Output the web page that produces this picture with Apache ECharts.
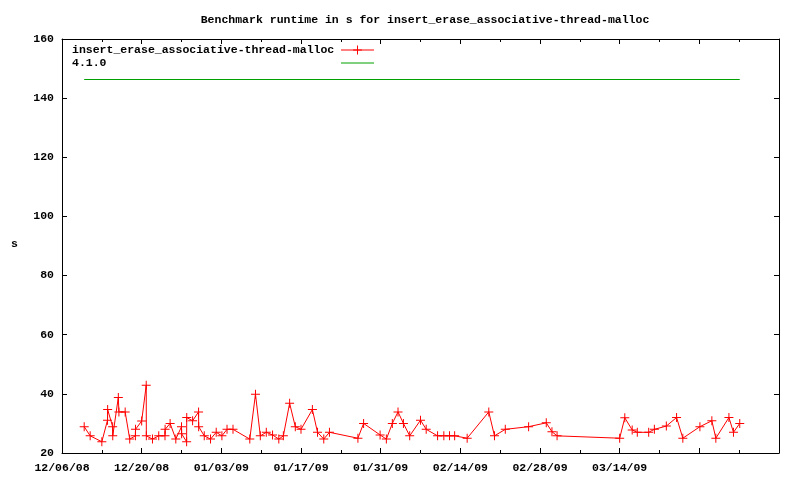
<!DOCTYPE html>
<html>
<head>
<meta charset="utf-8">
<script src="https://cdn.jsdelivr.net/npm/echarts@6/dist/echarts.min.js"></script>
<style>html,body{margin:0;padding:0;background:#fff}#c{width:800px;height:480px}</style>
</head>
<body>
<div id="c"></div>
<script>
// Days since 12/06/08
var DAYS = [3.9,4.95,7.0,8.0,8.02,8.9,8.92,9.9,10.0,11.1,11.9,12.9,12.92,14.0,14.8,14.82,15.9,17.0,18.1,18.12,19.0,20.0,21.0,21.02,21.9,21.92,22.95,24.0,24.02,25.0,26.1,27.1,28.1,29.0,30.05,33.0,34.0,34.85,35.9,37.0,38.1,38.9,40.0,41.0,42.0,44.0,44.9,46.0,47.0,52.0,53.0,55.9,57.0,58.05,59.05,60.0,61.1,63.0,64.0,66.0,67.1,68.1,69.0,71.2,75.0,76.0,77.9,82.0,85.1,86.1,87.0,98.0,98.9,100.2,101.1,103.1,104.1,106.2,108.0,109.1,112.1,114.2,114.9,117.2,118.0,119.1];
var RUNTIME = [28.9,25.8,23.8,31.1,34.7,28.9,25.8,38.8,33.9,33.9,24.7,25.8,28.0,30.8,42.9,25.8,24.7,25.8,25.8,28.0,30.0,24.7,28.9,26.5,23.8,32.0,30.9,33.9,28.9,25.8,24.7,27.0,25.8,28.0,28.0,24.7,39.9,25.8,27.0,26.1,24.7,25.8,36.8,28.9,28.0,34.7,27.0,24.7,27.0,25.0,30.0,26.1,24.7,30.0,33.9,30.0,25.8,31.1,28.0,25.8,25.8,25.8,25.8,25.0,33.9,25.8,28.0,28.9,30.2,27.2,25.8,25.0,31.9,27.8,27.0,27.0,28.0,29.1,32.0,25.0,28.9,30.9,25.0,32.0,27.0,30.0];
var REF_VALUE = 146.3;
var X_TICK_LABELS = ['12/06/08','12/20/08','01/03/09','01/17/09','01/31/09','02/14/09','02/28/09','03/14/09','',''];
var SERIES_NAMES = ['insert_erase_associative-thread-malloc','4.1.0'];
var TITLE = 'Benchmark runtime in s for insert_erase_associative-thread-malloc';

var FONT = 'Liberation Mono';
var mainData = DAYS.map(function(d,i){return [d, RUNTIME[i]];});
var refData = [[DAYS[0], REF_VALUE],[DAYS[DAYS.length-1], REF_VALUE]];
var CROSS = 'path://M4,0h1v4h4v1h-4v4h-1v-4h-4v-1h4z';
var GREEN = '#00a000';

var chart = echarts.init(document.getElementById('c'), null, {renderer:'canvas'});
var lbl = {fontFamily: FONT, fontWeight: 'bold', fontSize: 11.5, color: '#000'};
function xAx(pos, show){
  return {
    type:'value', position: pos, min:0, max:126, interval:14,
    axisLine:{show:true, onZero:false, lineStyle:{color:'#000', width:1}},
    axisTick:{show:true, inside:true, length:5, lineStyle:{color:'#000'}},
    minorTick:{show:true, splitNumber:2, length:3, lineStyle:{color:'#000'}},
    splitLine:{show:false}, minorSplitLine:{show:false},
    axisLabel: Object.assign({show: show, margin: 9, formatter: function(v){return X_TICK_LABELS[Math.round(v/14)] || '';}}, lbl)
  };
}
function yAx(pos, show){
  return {
    type:'value', position: pos, min:20, max:160, interval:20,
    axisLine:{show:true, onZero:false, lineStyle:{color:'#000', width:1}},
    axisTick:{show:true, inside:true, length:5, lineStyle:{color:'#000'}},
    splitLine:{show:false},
    axisLabel: Object.assign({show: show, margin: 8}, lbl)
  };
}
chart.setOption({
  animation:false,
  backgroundColor:'#fff',
  title:{text:TITLE, left:420, textAlign:'center', top:9, textStyle:{fontFamily:FONT, fontWeight:'bold', fontSize:11.5, color:'#000'}},
  grid:{left:62, right:21, top:39, bottom:27, show:false},
  legend:{
    orient:'vertical', left:67, top:39, align:'right', itemGap:1, itemWidth:33, itemHeight:11,
    data: SERIES_NAMES,
    lineStyle:{width:1},
    formatter: function(n){return '{a|'+n+'}';},
    textStyle:{fontFamily:FONT, fontWeight:'bold', fontSize:11.5, color:'#000', rich:{a:{width:264, align:'left', lineHeight:13, fontFamily:FONT, fontWeight:'bold', fontSize:11.5}}}
  },
  xAxis:[xAx('bottom', true), xAx('top', false)],
  yAxis:[yAx('left', true), yAx('right', false)],
  graphic:[{type:'text', left:11, top:238, style:{text:'s', font:'bold 11.5px "Liberation Mono"', fill:'#000'}}],
  series:[
    {name:SERIES_NAMES[0], type:'line', data:mainData, symbol:CROSS, symbolSize:9, showAllSymbol:true,
     lineStyle:{color:'#ff0000', width:1}, itemStyle:{color:'#ff0000'}},
    {name:SERIES_NAMES[1], type:'line', data:refData, symbol:'rect', showSymbol:false,
     lineStyle:{color:GREEN, width:1}, itemStyle:{color:'rgba(0,0,0,0)', borderWidth:0}}
  ]
});
</script>
</body>
</html>
